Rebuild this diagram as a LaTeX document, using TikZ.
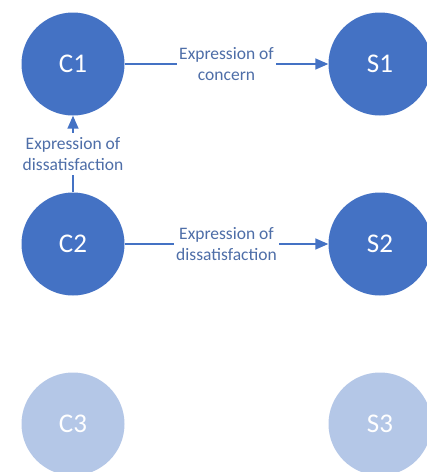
\documentclass[tikz,border=0pt]{standalone}
\usepackage{fontspec}
\setmainfont{Carlito}
\usetikzlibrary{arrows.meta}
\definecolor{darkfill}{HTML}{4472C4}
\definecolor{lightfill}{HTML}{B4C7E7}
\definecolor{labelcol}{HTML}{4E6EA8}
\tikzset{
  dot/.style={circle, minimum size=103pt, inner sep=0pt, text=white, font=\fontsize{27}{30}\selectfont},
  darkdot/.style={dot, fill=darkfill},
  lightdot/.style={dot, fill=lightfill},
  conn/.style={draw=darkfill, line width=1.5pt, -{Triangle[length=13pt,width=11pt]}},
  lbl/.style={fill=white, text=labelcol, align=center, inner sep=2pt, font=\fontsize{17.5}{21.5}\selectfont}
}
\begin{document}
\begin{tikzpicture}[x=1pt,y=-1pt]
\useasboundingbox (0,0) rectangle (427,472);
\node[darkdot] (C1) at (73,64) {C1};
\node[darkdot] (S1) at (380,64) {S1};
\node[darkdot] (C2) at (73,244) {C2};
\node[darkdot] (S2) at (380,244) {S2};
\node[lightdot] (C3) at (73,424) {C3};
\node[lightdot] (S3) at (380,424) {S3};
\draw[conn] (C1) -- node[lbl] {Expression of\\concern} (S1);
\draw[conn] (C2) -- node[lbl] {Expression of\\dissatisfaction} (S2);
\draw[conn] (C2) -- node[lbl, inner sep=4pt] {Expression of\\dissatisfaction} (C1);
\end{tikzpicture}
\end{document}
